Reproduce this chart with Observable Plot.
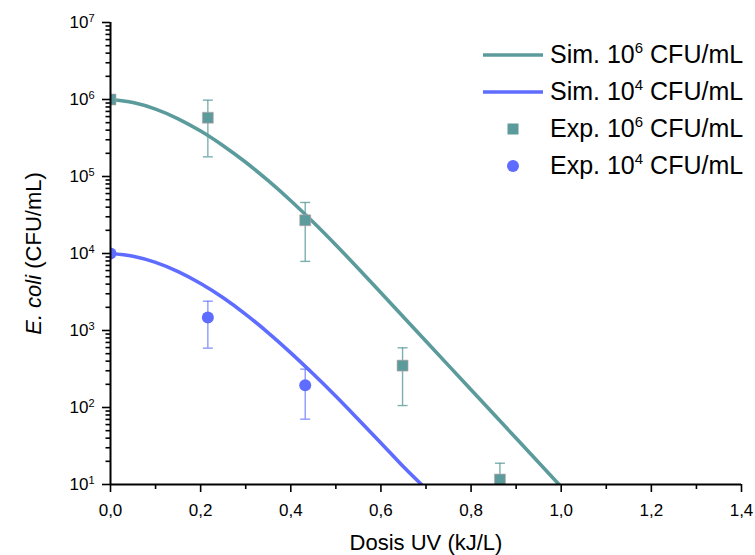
<!DOCTYPE html>
<html>
<head>
<meta charset="utf-8">
<script src="https://cdn.jsdelivr.net/npm/d3@7"></script>
<script src="https://cdn.jsdelivr.net/npm/@observablehq/plot@0.6"></script>
<style>
  html, body { margin: 0; padding: 0; background: #fff; }
  body { font-family: "Liberation Sans", Arial, sans-serif; }
  #wrap { position: relative; width: 755px; height: 555px; }
  #legend { position: absolute; left: 483px; top: 36px; font-size: 25px; color: #000; line-height: 1; }
  #legend .row { display: flex; align-items: center; height: 37px; white-space: nowrap; }
  #legend svg { width: 60px; height: 20px; margin-right: 7px; flex: none; }
  #legend sup { font-size: 15px; vertical-align: 10px; line-height: 0; }
  #chart svg text { font-family: "Liberation Sans", Arial, sans-serif; }
</style>
</head>
<body>
<div id="wrap"><div id="chart"></div><div id="legend"></div></div>
<script>
// ---- data ----
const teal = "#5b9b9c";
const blue = "#5e6cff";

// simulation 10^6 CFU/mL
const sim6Dose = [0, 0.05, 0.1, 0.15, 0.2, 0.25, 0.3, 0.35, 0.4, 0.45, 0.5, 0.6, 0.7, 0.8, 0.9, 1.0];
const sim6Val  = [1e6, 9.12e5, 7.50e5, 5.62e5, 3.89e5, 2.51e5, 1.53e5, 8.81e4, 4.84e4, 2.54e4, 1.29e4, 3.09e3, 724, 170, 39.8, 9.33];

// simulation 10^4 CFU/mL
const sim4Dose = [0, 0.05, 0.1, 0.15, 0.2, 0.25, 0.3, 0.35, 0.4, 0.45, 0.5, 0.55, 0.6, 0.65, 0.69];
const sim4Val  = [1e4, 9226, 7674, 5821, 4074, 2661, 1622, 933, 513, 272, 140, 70, 34.7, 17.0, 10];

// experiments 10^6 CFU/mL
const exp6Dose = [0, 0.216, 0.432, 0.648, 0.864];
const exp6Val  = [1e6, 5.8e5, 2.7e4, 350, 11.6];
const exp6Lo   = [null, 1.8e5, 7.9e3, 106, 5];
const exp6Hi   = [null, 9.8e5, 4.6e4, 596, 18.9];

// experiments 10^4 CFU/mL
const exp4Dose = [0, 0.216, 0.432];
const exp4Val  = [1e4, 1480, 195];
const exp4Lo   = [null, 590, 70.5];
const exp4Hi   = [null, 2400, 315];

// axis ticks
const xMajor = [0, 0.2, 0.4, 0.6, 0.8, 1.0, 1.2, 1.4];
const xMinor = [0.1, 0.3, 0.5, 0.7, 0.9, 1.1, 1.3];
const yMajor = [1e1, 1e2, 1e3, 1e4, 1e5, 1e6, 1e7];
const yMinor = [];
for (let e = 1; e < 7; e++) for (let m = 2; m <= 9; m++) yMinor.push(m * Math.pow(10, e));

const legendItems = [
  {kind: "line", color: teal, pre: "Sim. 10", exp: "6"},
  {kind: "line", color: blue, pre: "Sim. 10", exp: "4"},
  {kind: "square", color: teal, pre: "Exp. 10", exp: "6"},
  {kind: "circle", color: blue, pre: "Exp. 10", exp: "4"}
];

// ---- tables ----
const sim6 = sim6Dose.map((x, i) => ({x, y: sim6Val[i]}));
const sim4 = sim4Dose.map((x, i) => ({x, y: sim4Val[i]}));
const exp6 = exp6Dose.map((x, i) => ({x, y: exp6Val[i], lo: exp6Lo[i], hi: exp6Hi[i]}));
const exp4 = exp4Dose.map((x, i) => ({x, y: exp4Val[i], lo: exp4Lo[i], hi: exp4Hi[i]}));
const err6 = exp6.filter(d => d.lo != null);
const err4 = exp4.filter(d => d.lo != null);
const caps6 = err6.flatMap(d => [{x: d.x, y: d.lo}, {x: d.x, y: d.hi}]);
const caps4 = err4.flatMap(d => [{x: d.x, y: d.lo}, {x: d.x, y: d.hi}]);

const capSymbol = {
  draw(context, size) {
    const w = Math.sqrt(size / Math.PI);
    context.moveTo(-w, 0);
    context.lineTo(w, 0);
  }
};

const chart = Plot.plot({
  width: 755,
  height: 555,
  marginLeft: 110,
  marginRight: 14,
  marginTop: 22,
  marginBottom: 71,
  style: {fontFamily: "Liberation Sans, Arial, sans-serif", fontSize: "17px", color: "#000", background: "#fff"},
  x: {domain: [0, 1.4]},
  y: {type: "log", domain: [10, 1e7]},
  marks: [
    Plot.line(sim6, {x: "x", y: "y", stroke: teal, strokeWidth: 3.6, curve: "monotone-x", clip: true}),
    Plot.line(sim4, {x: "x", y: "y", stroke: blue, strokeWidth: 3.6, curve: "monotone-x", clip: true}),
    Plot.ruleX(err6, {x: "x", y1: "lo", y2: "hi", stroke: teal, strokeOpacity: 0.8, strokeWidth: 1.4, clip: true}),
    Plot.ruleX(err4, {x: "x", y1: "lo", y2: "hi", stroke: blue, strokeOpacity: 0.7, strokeWidth: 1.4, clip: true}),
    Plot.dot(caps6, {x: "x", y: "y", symbol: capSymbol, r: 5, stroke: teal, strokeOpacity: 0.8, strokeWidth: 1.4, fill: "none", clip: true}),
    Plot.dot(caps4, {x: "x", y: "y", symbol: capSymbol, r: 5, stroke: blue, strokeOpacity: 0.7, strokeWidth: 1.4, fill: "none", clip: true}),
    Plot.dot(exp6, {x: "x", y: "y", symbol: "square", r: 6.2, fill: teal, stroke: "#c9a3a8", strokeWidth: 0.6, clip: true}),
    Plot.dot(exp4, {x: "x", y: "y", symbol: "circle", r: 6, fill: blue, stroke: "none", clip: true}),
    Plot.axisX(xMinor, {tickSize: 5, strokeWidth: 1.6, tickFormat: () => "", label: null}),
    Plot.axisX(xMajor, {tickSize: 8, strokeWidth: 1.6, tickPadding: 11, fontSize: 17,
      tickFormat: d => d.toFixed(1).replace(".", ","),
      label: "Dosis UV (kJ/L)", labelAnchor: "center", labelOffset: 65}),
    Plot.axisY(yMinor, {tickSize: 4.5, strokeWidth: 1.6, tickFormat: () => "", label: null}),
    Plot.axisY(yMajor, {tickSize: 8, strokeWidth: 1.6, tickPadding: 8, fontSize: 17,
      tickFormat: d => "10|" + Math.round(Math.log10(d)),
      label: "E. coli (CFU/mL)", labelAnchor: "center", labelOffset: 85}),
    Plot.ruleX([0], {stroke: "#000", strokeWidth: 2}),
    Plot.ruleY([10], {stroke: "#000", strokeWidth: 2})
  ]
});

document.getElementById("chart").appendChild(chart);

const SVGNS = "http://www.w3.org/2000/svg";
chart.querySelectorAll("text").forEach(t => {
  const s = t.textContent;
  if (/^10\|\d$/.test(s)) {
    // y tick label with superscript exponent
    const [base, e] = s.split("|");
    t.textContent = base;
    t.style.fontSize = "17px";
    t.setAttribute("font-size", "17");
    const ts = document.createElementNS(SVGNS, "tspan");
    ts.setAttribute("dy", "-0.55em");
    ts.style.fontSize = "11px";
    ts.textContent = e;
    t.appendChild(ts);
  } else if (/^\d,\d$/.test(s)) {
    // x tick label
    t.style.fontSize = "17px";
    t.setAttribute("font-size", "17");
  } else if (s.includes("Dosis UV")) {
    t.textContent = "Dosis UV (kJ/L)";
    t.style.fontSize = "22px";
    t.setAttribute("font-size", "22");
  } else if (s.includes("CFU/mL") && s.includes("coli")) {
    t.textContent = "";
    t.style.fontSize = "22px";
    t.setAttribute("font-size", "22");
    const a = document.createElementNS(SVGNS, "tspan");
    a.setAttribute("font-style", "italic");
    a.textContent = "E. coli";
    const b = document.createElementNS(SVGNS, "tspan");
    b.textContent = " (CFU/mL)";
    t.appendChild(a);
    t.appendChild(b);
  }
});

// legend (HTML overlay)
const leg = document.getElementById("legend");
legendItems.forEach(it => {
  const row = document.createElement("div");
  row.className = "row";
  let sw = "";
  if (it.kind === "line") sw = `<line x1="0" x2="60" y1="10" y2="10" stroke="${it.color}" stroke-width="3.6"/>`;
  else if (it.kind === "square") sw = `<rect x="24.5" y="4.5" width="11" height="11" fill="${it.color}"/>`;
  else sw = `<circle cx="30" cy="10" r="6" fill="${it.color}"/>`;
  row.innerHTML = `<svg viewBox="0 0 60 20">${sw}</svg><span>${it.pre}<sup>${it.exp}</sup> CFU/mL</span>`;
  leg.appendChild(row);
});
</script>
</body>
</html>
